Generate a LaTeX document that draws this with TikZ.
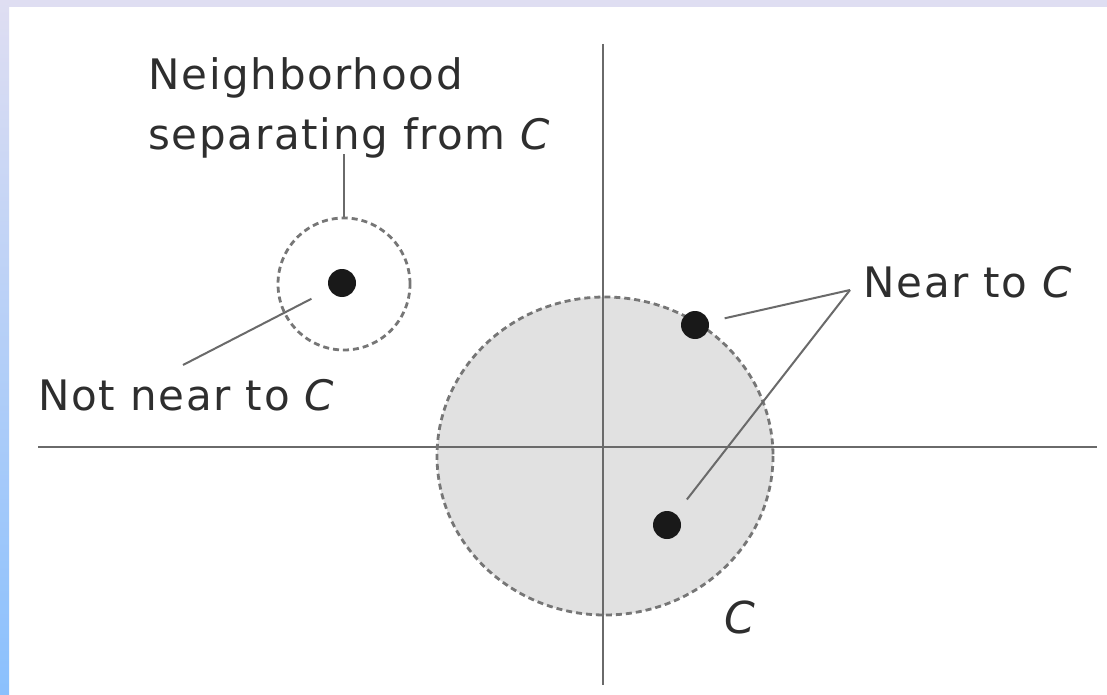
\documentclass[tikz,border=0pt]{standalone}
\usepackage{fontspec}
\usepackage{xcolor}
\usepackage{tikz}
\usetikzlibrary{calc}
\newfontfamily\labelfont[LetterSpace=4]{DejaVu Sans}
\definecolor{ink}{HTML}{2E2E2E}
\definecolor{rule}{HTML}{6A6A6A}
\definecolor{edge}{HTML}{767676}
\definecolor{region}{HTML}{E1E1E1}
\definecolor{bandtop}{HTML}{DFDEF2}
\definecolor{bandlow}{HTML}{8AC0FD}

\begin{document}
\begin{tikzpicture}[x=0.5pt, y=-0.5pt,
  axis/.style={draw=rule, line width=1.2pt},
  nbhd/.style={draw=edge, line width=1.4pt, dash pattern=on 3pt off 2pt},
  pt/.style={circle, fill=black!90, minimum size=14pt, inner sep=0pt},
  lbl/.style={font=\labelfont\fontsize{21}{30}\selectfont, text=ink, inner sep=0pt},
  lead/.style={draw=rule, line width=1pt}
]
\useasboundingbox (0,0) rectangle (1107,695);
% page and frame
\fill[white] (0,0) rectangle (1107,695);
\fill[bandtop] (0,0) rectangle (1107,7);
\shade[top color=bandtop, bottom color=bandlow] (0,0) rectangle (9,695);

% the set C
\fill[region] (605,456) ellipse [x radius=168, y radius=159];
\draw[axis] (603,44) -- (603,685);
\draw[axis] (38,447) -- (1097,447);
\draw[nbhd] (605,456) ellipse [x radius=168, y radius=159];

% separating neighbourhood
\node[nbhd, circle, minimum size=66pt, inner sep=0pt] (nbcirc) at (344,284) {};

% points
\node[pt] (far) at (342,283) {};
\node[pt] (rim) at (695,325) {};
\node[pt] (inner) at (667,525) {};

% labels
\node[lbl, anchor=north west, align=left] (nbhdtext) at (148,57)
  {Neighborhood\\separating from \textit{C}};
\node[lbl, anchor=base west] (notnear) at (38,410) {Not near to \textit{C}};
\node[lbl, anchor=base west] (near) at (863,297) {Near to \textit{C}};
\node[lbl, font=\labelfont\fontsize{22}{26}\selectfont, anchor=base] (setC) at (741,633) {\textit{C}};

% leaders
\coordinate (notnearend) at (183,365);
\coordinate (neartip) at (850,290);
\draw[lead] ($(nbcirc.north |- nbhdtext.south)+(0,-4)$) -- (nbcirc.north);
\draw[lead, shorten >=10pt] (notnearend) -- (far);
\draw[lead, shorten >=8pt] (neartip) -- (rim);
\draw[lead, shorten >=9pt] (neartip) -- (inner);
\end{tikzpicture}
\end{document}
